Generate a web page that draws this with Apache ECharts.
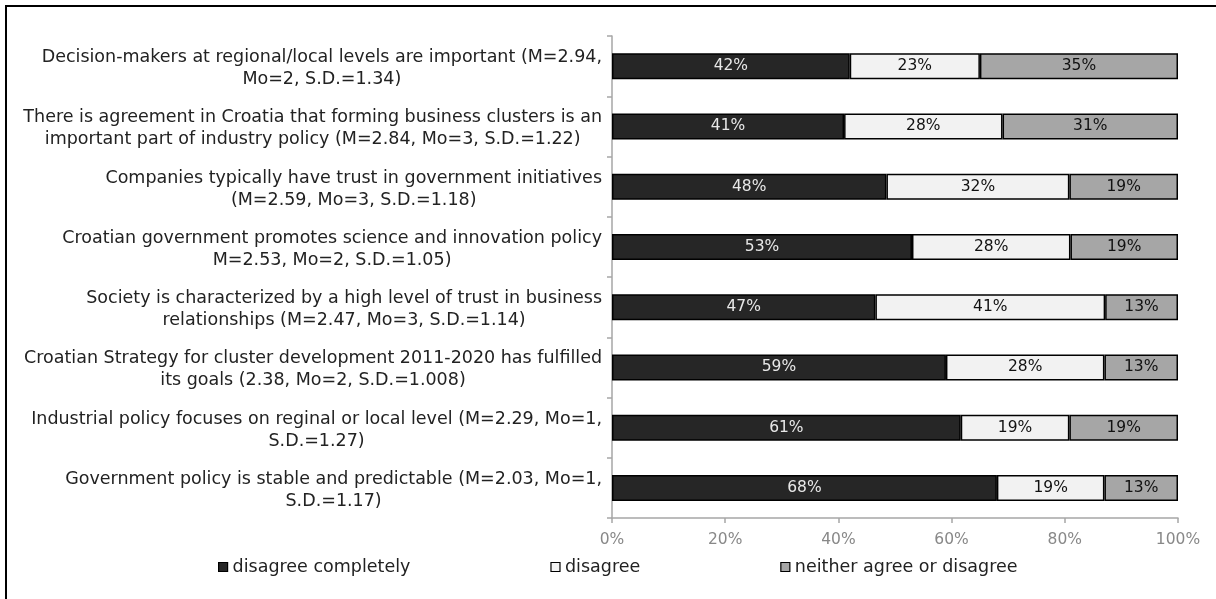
<!DOCTYPE html>
<html>
<head>
<meta charset="utf-8">
<script src="https://cdn.jsdelivr.net/npm/echarts@6/dist/echarts.min.js"></script>
<style>
  html, body { margin: 0; padding: 0; background: #fff; }
  #chart { width: 1216px; height: 599px; }
</style>
</head>
<body>
<div id="chart"></div>
<script>
// Survey statements (top to bottom)
const statements = [
  'Decision-makers at regional/local levels are important (M=2.94,\nMo=2, S.D.=1.34)',
  'There is agreement in Croatia that forming business clusters is an\nimportant part of industry policy (M=2.84, Mo=3, S.D.=1.22)',
  'Companies typically have trust in government initiatives\n(M=2.59, Mo=3, S.D.=1.18)',
  'Croatian government promotes science and innovation policy\nM=2.53, Mo=2, S.D.=1.05)',
  'Society is characterized by a high level of trust in business\nrelationships (M=2.47, Mo=3, S.D.=1.14)',
  'Croatian Strategy for cluster development 2011-2020 has fulfilled\nits goals (2.38, Mo=2, S.D.=1.008)',
  'Industrial policy focuses on reginal or local level (M=2.29, Mo=1,\nS.D.=1.27)',
  'Government policy is stable and predictable (M=2.03, Mo=1,\nS.D.=1.17)'
];

// Answer shares in percent, one entry per statement
const disagreeCompletely = [42, 41, 48, 53, 47, 59, 61, 68];
const disagree           = [23, 28, 32, 28, 41, 28, 19, 19];
const neitherAgree       = [35, 31, 19, 19, 13, 13, 19, 13];

const seriesNames = ['disagree completely', 'disagree', 'neither agree or disagree'];
const xTicks = [0, 20, 40, 60, 80, 100];

const FONT = 'DejaVu Sans';
const FS_TEXT = 17.5;   // statements and legend
const FS_NUM = 15.5;    // bar labels and axis ticks

// 100% stacked: each row is scaled so its parts fill the full bar,
// while the labels keep the stated percentages.
const rows = [disagreeCompletely, disagree, neitherAgree];
const totals = statements.map((_, i) => rows.reduce((s, r) => s + r[i], 0));
function toShares(arr) {
  return arr.map((v, i) => ({ value: v / totals[i] * 100, raw: v }));
}

const fills = ['#262626', '#f2f2f2', '#a6a6a6'];
const labelColors = ['#e8e8e8', '#111', '#111'];

const chart = echarts.init(document.getElementById('chart'), null, { renderer: 'canvas' });

chart.setOption({
  animation: false,
  backgroundColor: '#fff',
  textStyle: { fontFamily: FONT },
  graphic: [{
    type: 'rect',
    silent: true,
    shape: { x: 6, y: 6, width: 1400, height: 800 },
    style: { fill: 'none', stroke: '#000', lineWidth: 2 }
  }],
  grid: { left: 612, right: 38, top: 36, bottom: 81, containLabel: false },
  legend: {
    data: seriesNames,
    left: 213,
    top: 553,
    icon: 'rect',
    itemWidth: 9,
    itemHeight: 9,
    itemGap: 140,
    itemStyle: { borderColor: '#000', borderWidth: 1.2 },
    textStyle: { fontFamily: FONT, fontSize: FS_TEXT, color: '#222' }
  },
  xAxis: {
    type: 'value',
    min: xTicks[0],
    max: xTicks[xTicks.length - 1],
    interval: xTicks[1] - xTicks[0],
    axisLine: { show: true, lineStyle: { color: '#a6a6a6', width: 1.5 } },
    axisTick: { show: true, length: 5, lineStyle: { color: '#a6a6a6', width: 1.5 } },
    splitLine: { show: false },
    axisLabel: {
      formatter: '{value}%',
      color: '#888',
      fontFamily: FONT,
      fontSize: FS_NUM,
      margin: 14
    }
  },
  yAxis: {
    type: 'category',
    inverse: true,
    data: statements,
    axisLine: { show: true, lineStyle: { color: '#a6a6a6', width: 1.5 } },
    axisTick: { show: true, length: 5, lineStyle: { color: '#a6a6a6', width: 1.5 } },
    axisLabel: {
      margin: 10,
      padding: [5, 0, 0, 0],
      formatter: v => '{c|' + v + '}',
      rich: {
        c: { align: 'center', fontFamily: FONT, fontSize: FS_TEXT, color: '#222', lineHeight: 22 }
      }
    }
  },
  series: seriesNames.map((name, k) => ({
    name,
    type: 'bar',
    stack: 'total',
    barWidth: 26,
    data: toShares(rows[k]),
    itemStyle: { color: fills[k], borderColor: '#000', borderWidth: 1.5 },
    label: {
      show: true,
      position: 'inside',
      formatter: p => p.data.raw + '%',
      color: labelColors[k],
      fontFamily: FONT,
      fontSize: FS_NUM
    }
  }))
});
</script>
</body>
</html>
